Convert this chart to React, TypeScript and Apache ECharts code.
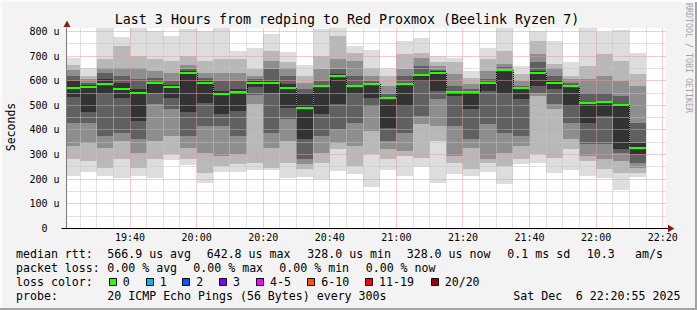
import React, { useEffect, useRef } from 'react';
import * as echarts from 'echarts';

const FONT = "'DejaVu Sans Mono', monospace";

// ---------- data ----------
const axisStart = '19:20:55';
const axisEnd = '22:20:55';
const yUpperLimit = 814; // µs

const slotStarts = [
  '19:20', '19:25', '19:30', '19:35', '19:40', '19:45', '19:50', '19:55',
  '20:00', '20:05', '20:10', '20:15', '20:20', '20:25', '20:30', '20:35', '20:40', '20:45', '20:50', '20:55',
  '21:00', '21:05', '21:10', '21:15', '21:20', '21:25', '21:30', '21:35', '21:40', '21:45', '21:50', '21:55',
  '22:00', '22:05', '22:10',
];

// median rtt per 5 min slot (µs)
const medianRtt = [
  572, 575, 587, 568, 552, 592, 576, 633,
  592, 548, 556, 592, 592, 572, 491, 579, 620, 579, 588, 531,
  586, 624, 633, 554, 554, 592, 643, 572, 633, 592, 579, 510,
  514, 503, 328,
];

// smoke: sorted ping quantiles per slot (µs): min, q1..q8, max
const smokeQuantiles = [
  [212, 281, 335, 430, 535, 598, 620, 645, 665, 692],
  [231, 274, 349, 430, 473, 582, 590, 606, 620, 652],
  [215, 247, 328, 375, 545, 606, 633, 653, 687, 812],
  [206, 281, 355, 389, 531, 592, 620, 653, 742, 778],
  [213, 247, 308, 362, 437, 565, 606, 653, 701, 814],
  [206, 281, 355, 504, 552, 595, 613, 640, 687, 800],
  [280, 301, 376, 484, 531, 582, 599, 633, 680, 782],
  [256, 281, 328, 376, 471, 640, 648, 665, 701, 810],
  [186, 227, 308, 416, 511, 599, 613, 633, 680, 803],
  [231, 254, 294, 416, 464, 559, 599, 633, 687, 812],
  [231, 261, 301, 376, 477, 565, 599, 633, 687, 721],
  [237, 265, 505, 540, 575, 598, 606, 620, 647, 731],
  [237, 247, 328, 389, 552, 599, 647, 680, 721, 789],
  [206, 267, 355, 443, 491, 586, 620, 653, 674, 717],
  [208, 240, 261, 281, 362, 552, 565, 592, 620, 663],
  [200, 267, 308, 376, 464, 582, 599, 647, 701, 809],
  [233, 321, 349, 403, 504, 626, 647, 687, 782, 812],
  [220, 254, 335, 430, 545, 582, 620, 680, 714, 739],
  [170, 301, 396, 498, 531, 590, 599, 620, 653, 725],
  [238, 281, 321, 355, 409, 535, 545, 579, 620, 653],
  [213, 294, 315, 389, 498, 592, 620, 647, 708, 762],
  [251, 288, 423, 457, 599, 626, 660, 694, 714, 775],
  [186, 355, 416, 525, 559, 638, 645, 658, 676, 701],
  [223, 267, 294, 416, 538, 559, 579, 626, 674, 694],
  [215, 240, 328, 362, 484, 558, 565, 586, 613, 640],
  [229, 267, 281, 423, 559, 596, 606, 640, 687, 731],
  [180, 254, 308, 389, 545, 648, 655, 667, 721, 812],
  [262, 281, 335, 376, 525, 576, 579, 599, 626, 660],
  [265, 301, 538, 552, 579, 640, 674, 708, 762, 803],
  [226, 288, 484, 504, 565, 603, 620, 653, 667, 762],
  [238, 321, 362, 430, 498, 582, 590, 606, 620, 674],
  [213, 274, 294, 342, 430, 514, 552, 606, 660, 812],
  [207, 240, 281, 342, 457, 518, 552, 620, 708, 796],
  [157, 227, 274, 308, 321, 504, 538, 599, 680, 804],
  [210, 224, 247, 267, 301, 349, 430, 579, 626, 714],
];

const yLabelValues = [0, 100, 200, 300, 400, 500, 600, 700, 800];
const yMajorGrid = [100, 200, 300, 400, 500, 600, 700, 800];
const yMinorGrid = [50, 150, 250, 350, 450, 550, 650, 750];
const xMajorTimes = ['19:40', '20:00', '20:20', '20:40', '21:00', '21:20', '21:40', '22:00', '22:20'];
const xMinorTimes = [
  '19:25', '19:30', '19:35', '19:45', '19:50', '19:55', '20:05', '20:10', '20:15',
  '20:25', '20:30', '20:35', '20:45', '20:50', '20:55', '21:05', '21:10', '21:15',
  '21:25', '21:30', '21:35', '21:45', '21:50', '21:55', '22:05', '22:10', '22:15',
];

const titleText = 'Last 3 Hours from redping to Red Proxmox (Beelink Ryzen 7)';
const rttStats = ['median rtt:', '566.9 us avg', '642.8 us max', '328.0 us min', '328.0 us now', '0.1 ms sd', '10.3', 'am/s'];
const lossStats = ['packet loss:', '0.00 % avg', '0.00 % max', '0.00 % min', '0.00 % now'];
const lossLabels = ['0', '1', '2', '3', '4-5', '6-10', '11-19', '20/20'];
const lossColors = ['#26ff00', '#00b8ff', '#0059ff', '#7e00ff', '#ff00ff', '#ff5500', '#ff0000', '#a10000'];
const probeInfo = ['probe:', '20 ICMP Echo Pings (56 Bytes) every 300s', 'Sat Dec', '6 22:20:55 2025'];

// ---------- layout / style ----------
const bandGrays = ['#dddddd', '#b8b8b8', '#8e8e8e', '#606060', '#333333'];
const rttX = [16, 107.3, 206.7, 307.3, 406.7, 507.3, 586.7, 635];
const lossX = [16, 107.3, 193.3, 279.3, 365.7];
const boxX = [108.7, 145.7, 182.3, 219, 256, 307.3, 365, 430.7];
const probeX = [16, 107.3, 513.3, 575.7];

const toMin = (s: string) => {
  const p = s.split(':').map(Number);
  return p[0] * 60 + p[1] + (p[2] || 0) / 60;
};
const xMin = toMin(axisStart);
const xMax = toMin(axisEnd);

function txt(x: number, y: number, text: string, extra: any = {}) {
  return {
    type: 'text',
    x,
    y,
    z: 100,
    rotation: extra.rotation || 0,
    style: {
      text,
      x: 0,
      y: 0,
      fontFamily: FONT,
      fontSize: extra.fontSize || 11.6,
      fill: extra.fill || '#000',
      align: extra.align || 'left',
      verticalAlign: 'middle',
      textAlign: extra.align || 'left',
      textVerticalAlign: 'middle',
    },
  };
}

export default function App() {
  const ref = useRef<HTMLDivElement>(null);
  useEffect(() => {
    if (!ref.current) return;
    const chart = echarts.init(ref.current, null, { renderer: 'svg' });

    const gridLine = (color: string, z: number, vertical: boolean, values: number[]) => ({
      type: 'custom',
      silent: true,
      z,
      data: values.map((v) => (vertical ? [v, 0] : [xMin, v])),
      renderItem: (_p: any, api: any) => {
        if (vertical) {
          const x = api.value(0);
          const a = api.coord([x, 0]);
          const b = api.coord([x, yUpperLimit]);
          const px = Math.floor(a[0]) + 0.5;
          return { type: 'line', shape: { x1: px, y1: a[1], x2: px, y2: b[1] }, style: { stroke: color, lineWidth: 1, lineDash: [1, 1] } };
        }
        const y = api.value(1);
        const a = api.coord([xMin, y]);
        const b = api.coord([xMax, y]);
        const py = Math.floor(a[1]) + 0.5;
        return { type: 'line', shape: { x1: a[0], y1: py, x2: b[0], y2: py }, style: { stroke: color, lineWidth: 1, lineDash: [1, 1] } };
      },
    });

    const slotData = slotStarts.map((s, i) => [toMin(s), medianRtt[i]]);

    const graphics: any[] = [];
    graphics.push(txt(347, 19.3, titleText, { fontSize: 13.3, align: 'center' }));
    graphics.push(txt(10.5, 127, 'Seconds', { fontSize: 11.5, align: 'center', rotation: Math.PI / 2 }));
    graphics.push(txt(688.5, 58, 'RRDTOOL / TOBI OETIKER', { fontSize: 8.3, align: 'center', rotation: -Math.PI / 2, fill: '#a4a4a4' }));
    rttStats.forEach((t, i) => graphics.push(txt(rttX[i], 254.3, t)));
    lossStats.forEach((t, i) => graphics.push(txt(lossX[i], 268.3, t)));
    graphics.push(txt(16, 282.2, 'loss color:'));
    lossLabels.forEach((t, i) => {
      graphics.push({
        type: 'rect', z: 100,
        shape: { x: Math.round(boxX[i]) + 0.5, y: 278.5, width: 7, height: 7 },
        style: { fill: lossColors[i], stroke: '#000', lineWidth: 1 },
      });
      graphics.push(txt(boxX[i] + 14, 282.2, t));
    });
    probeInfo.forEach((t, i) => graphics.push(txt(probeX[i], 295.8, t)));
    // axis arrows and extensions
    graphics.push({ type: 'polygon', z: 101, shape: { points: [[63.5, 27], [70.5, 27], [67, 20.5]] }, style: { fill: '#8c1c1c' } });
    graphics.push({ type: 'polygon', z: 101, shape: { points: [[668, 224.8], [668, 232.2], [674.5, 228.5]] }, style: { fill: '#8c1c1c' } });
    graphics.push({ type: 'line', z: 100, shape: { x1: 61.5, y1: 228.5, x2: 668, y2: 228.5 }, style: { stroke: '#000', lineWidth: 1 } });
    // frame
    graphics.push({ type: 'rect', z: 100, shape: { x: 695, y: 0, width: 2, height: 310 }, style: { fill: '#a3a3a3' } });
    graphics.push({ type: 'rect', z: 100, shape: { x: 0, y: 308, width: 697, height: 2 }, style: { fill: '#a3a3a3' } });
    graphics.push({ type: 'rect', z: 100, shape: { x: 0, y: 0, width: 697, height: 2 }, style: { fill: '#fbfbfb' } });
    graphics.push({ type: 'rect', z: 100, shape: { x: 0, y: 0, width: 2, height: 308 }, style: { fill: '#fbfbfb' } });

    const xLabelVals = xMajorTimes.map(toMin);

    chart.setOption({
      animation: false,
      backgroundColor: '#f3f3f3',
      grid: {
        left: 66.5, right: 697 - 665.75, top: 28, bottom: 81.5,
        show: true, backgroundColor: '#ffffff', borderWidth: 0,
      },
      xAxis: {
        type: 'value', min: xMin, max: xMax,
        axisLine: { show: false },
        axisTick: { show: false },
        splitLine: { show: false },
        axisLabel: {
          customValues: xLabelVals,
          margin: 4,
          fontFamily: FONT, fontSize: 10, color: '#000',
          formatter: (v: number) => {
            const i = xLabelVals.findIndex((t) => Math.abs(t - v) < 0.01);
            return i >= 0 ? xMajorTimes[i] : '';
          },
        },
      },
      yAxis: {
        type: 'value', min: 0, max: yUpperLimit, z: 10,
        axisLine: { show: true, lineStyle: { color: '#7a7a7a', width: 1 } },
        axisTick: { show: false },
        splitLine: { show: false },
        axisLabel: {
          customValues: yLabelValues,
          margin: 7,
          fontFamily: FONT, fontSize: 10, color: '#000',
          formatter: (v: number) => (v === 0 ? '{z|0}' : `${v} u`),
          rich: { z: { fontFamily: FONT, fontSize: 10, color: '#000', padding: [0, 12, 0, 0] } },
        },
      },
      graphic: { elements: graphics },
      series: [
        {
          type: 'custom', name: 'smoke', silent: true, z: 1,
          data: slotData,
          renderItem: (params: any, api: any) => {
            const i = params.dataIndex;
            const x0 = Math.max(api.value(0), xMin);
            const x1 = Math.min(api.value(0) + 5, xMax);
            const q = smokeQuantiles[i];
            const children: any[] = [];
            for (let b = 0; b < 5; b++) {
              const top = api.coord([x0, q[9 - b]]);
              const bot = api.coord([x1, q[b]]);
              const L = Math.round(top[0]);
              const R = Math.round(bot[0]);
              const T = Math.round(top[1]);
              const B = Math.round(bot[1]);
              children.push({ type: 'rect', shape: { x: L, y: T, width: R - L, height: B - T }, style: { fill: bandGrays[b] } });
            }
            return { type: 'group', children };
          },
        },
        gridLine('#c4c4c4', 2, true, xMinorTimes.map(toMin)),
        gridLine('#c4c4c4', 2, false, yMinorGrid),
        gridLine('#e79b9b', 2, true, xMajorTimes.map(toMin)),
        gridLine('#e79b9b', 2, false, yMajorGrid),
        {
          type: 'custom', name: 'median', silent: true, z: 3,
          data: slotData,
          renderItem: (params: any, api: any) => {
            const i = params.dataIndex;
            const x0 = Math.max(api.value(0), xMin);
            const x1 = Math.min(api.value(0) + 5, xMax);
            const a = api.coord([x0, api.value(1)]);
            const b = api.coord([x1, api.value(1)]);
            const L = Math.round(a[0]);
            const R = Math.round(b[0]);
            const cy = Math.round(a[1]);
            const children: any[] = [];
            if (i > 0) {
              const p = api.coord([x0, medianRtt[i - 1]]);
              const py = Math.round(p[1]);
              if (Math.abs(py - cy) > 1) {
                children.push({
                  type: 'line',
                  shape: { x1: L + 0.5, y1: Math.min(py, cy), x2: L + 0.5, y2: Math.max(py, cy) },
                  style: { stroke: '#000', lineWidth: 1, lineDash: [1, 1] },
                });
              }
            }
            children.push({ type: 'rect', shape: { x: L, y: cy - 1, width: R - L, height: 2 }, style: { fill: lossColors[0] } });
            return { type: 'group', children };
          },
        },
      ],
    });
    return () => chart.dispose();
  }, []);
  return <div ref={ref} style={{ position: 'fixed', left: 0, top: 0, width: 697, height: 310 }} />;
}
